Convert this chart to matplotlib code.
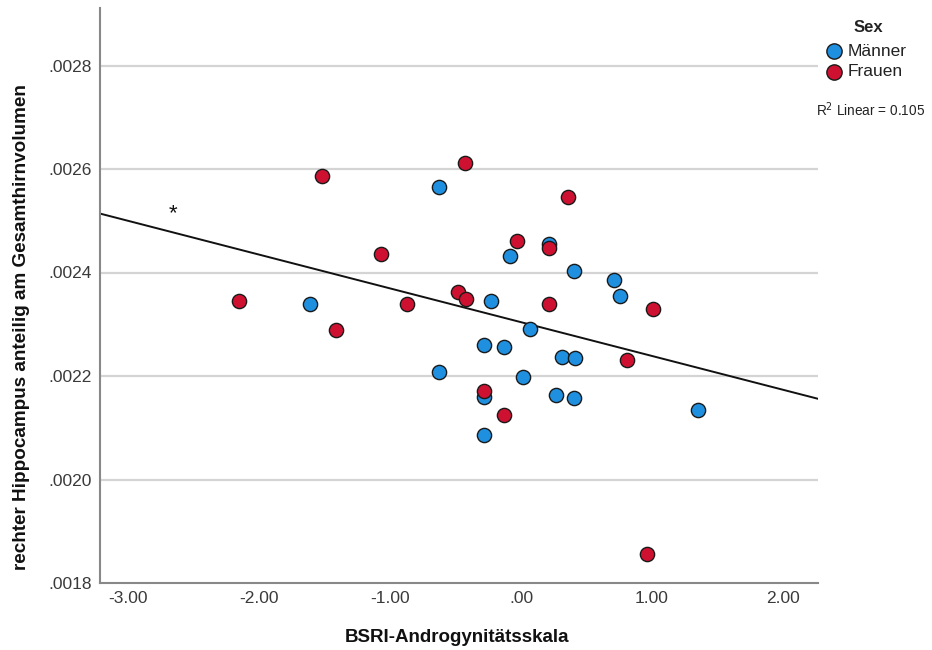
import matplotlib.pyplot as plt
import numpy as np

plt.rcParams['font.family'] = ['Liberation Sans', 'DejaVu Sans']

# BSRI androgyny score vs. right hippocampus share of total brain volume
maenner_x = [-1.611, -0.624, -0.626, -0.231, -0.280, -0.130, 0.069, -0.084, 0.216,
             0.407, 0.018, -0.280, -0.280, 0.315, 0.412, 0.265, 0.407, 0.710,
             0.756, 1.349]
maenner_y = [0.002340, 0.002566, 0.002208, 0.002345, 0.002260, 0.002256, 0.002290,
             0.002431, 0.002455, 0.002402, 0.002199, 0.002160, 0.002086, 0.002237,
             0.002235, 0.002163, 0.002158, 0.002386, 0.002355, 0.002134]

frauen_x = [-2.153, -1.415, -1.516, -1.069, -0.868, -0.427, -0.478, -0.422, -0.033,
            0.216, 0.214, 0.361, -0.280, -0.130, 1.005, 0.807, 0.960]
frauen_y = [0.002345, 0.002289, 0.002587, 0.002436, 0.002340, 0.002611, 0.002363,
            0.002349, 0.002460, 0.002447, 0.002339, 0.002546, 0.002171, 0.002124,
            0.002329, 0.002230, 0.001857]

# linear fit over all cases
fit_intercept = 0.002304
fit_slope = -6.53e-5
r2_text = 'R$^2$ Linear = 0.105'

x_ticks = [-3, -2, -1, 0, 1, 2]
x_labels = ['-3.00', '-2.00', '-1.00', '.00', '1.00', '2.00']
y_ticks = [0.0018, 0.0020, 0.0022, 0.0024, 0.0026, 0.0028]
y_labels = ['.0018', '.0020', '.0022', '.0024', '.0026', '.0028']

blue = '#1f8fe0'
red = '#cf1131'

fig = plt.figure(figsize=(9.32, 6.5), dpi=100)
ax = fig.add_axes([100 / 932, 1 - 583 / 650, 718 / 932, 575 / 650])

xmin, xmax = -3.214, 2.267
ymin, ymax = 0.0018, 0.0018 + 575 / 517500
ax.set_xlim(xmin, xmax)
ax.set_ylim(ymin, ymax)

for yt in y_ticks[1:]:
    ax.axhline(yt, color='#d4d4d4', lw=1.6, zorder=0)

xs = np.array([xmin, xmax])
ax.plot(xs, fit_intercept + fit_slope * xs, color='#111111', lw=1.4, zorder=2)
ax.text(-2.656, 0.002513, '*', fontsize=16, ha='center', va='center', color='#111111')

ax.scatter(maenner_x, maenner_y, s=105, c=blue, edgecolors='#1a1a1a', linewidths=1.0, zorder=3)
ax.scatter(frauen_x, frauen_y, s=105, c=red, edgecolors='#1a1a1a', linewidths=1.0, zorder=3)

ax.set_xticks(x_ticks)
ax.set_xticklabels(x_labels)
ax.set_yticks(y_ticks)
ax.set_yticklabels(y_labels)
ax.tick_params(length=0, labelsize=12.5, labelcolor='#3a3a3a', pad=6)

for s in ['top', 'right']:
    ax.spines[s].set_visible(False)
for s in ['left', 'bottom']:
    ax.spines[s].set_color('#888888')
    ax.spines[s].set_linewidth(1.5)

fig.text(457 / 932, 1 - 637 / 650, 'BSRI-Androgynitätsskala', fontsize=13.5,
         fontweight='bold', ha='center', va='center', color='#111111')
fig.text(22 / 932, 1 - 327 / 650, 'rechter Hippocampus anteilig am Gesamthirnvolumen',
         fontsize=13.6, fontweight='bold', rotation=90, ha='center', va='center',
         color='#111111')

# legend drawn by hand in figure coordinates
fig.text(868 / 932, 1 - 27 / 650, 'Sex', fontsize=12, fontweight='bold',
         ha='center', va='center', color='#222222')
for label, col, ypx in [('Männer', blue, 51), ('Frauen', red, 72)]:
    fig.lines.append(plt.Line2D([834 / 932], [1 - ypx / 650], marker='o', ms=11,
                                mfc=col, mec='#1a1a1a', mew=1.0, ls='none',
                                transform=fig.transFigure))
    fig.text(848 / 932, 1 - ypx / 650, label, fontsize=12.5, ha='left',
             va='center', color='#222222')
fig.text(816 / 932, 1 - 110 / 650, r2_text, fontsize=9.8, ha='left',
         va='center', color='#222222')

fig.savefig('out.png', dpi=100)
